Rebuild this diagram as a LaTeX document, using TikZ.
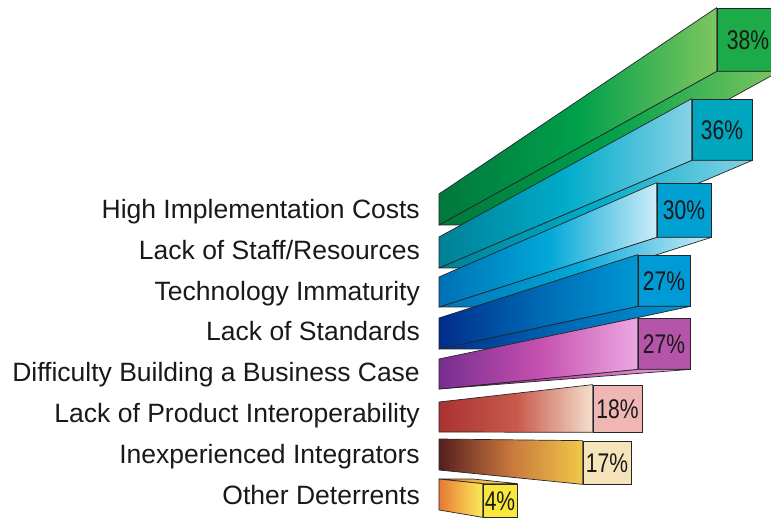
\documentclass[tikz,border=0pt]{standalone}
\usepackage{fontspec}
\setmainfont{Liberation Sans}
\usepackage{graphicx}
\newcommand{\pctText}[1]{\scalebox{0.78}[1]{#1}}
% bar colours: l = left end, m = middle, r = right end, s = end square
\definecolor{gOneL}{RGB}{0,120,60}\definecolor{gOneM}{RGB}{0,160,75}\definecolor{gOneR}{RGB}{125,198,95}\definecolor{gOneS}{RGB}{29,170,72}
\definecolor{gTwoL}{RGB}{0,128,150}\definecolor{gTwoM}{RGB}{0,172,202}\definecolor{gTwoR}{RGB}{135,210,230}\definecolor{gTwoS}{RGB}{0,165,190}
\definecolor{gThrL}{RGB}{0,112,182}\definecolor{gThrM}{RGB}{0,168,215}\definecolor{gThrR}{RGB}{205,236,248}\definecolor{gThrS}{RGB}{0,160,210}
\definecolor{gFouL}{RGB}{0,45,140}\definecolor{gFouM}{RGB}{0,105,180}\definecolor{gFouR}{RGB}{0,152,212}\definecolor{gFouS}{RGB}{0,155,215}
\definecolor{gFivL}{RGB}{120,45,145}\definecolor{gFivM}{RGB}{196,80,175}\definecolor{gFivR}{RGB}{236,168,226}\definecolor{gFivS}{RGB}{180,85,170}
\definecolor{gSixL}{RGB}{170,50,50}\definecolor{gSixM}{RGB}{200,90,75}\definecolor{gSixR}{RGB}{245,222,205}\definecolor{gSixS}{RGB}{240,182,180}
\definecolor{gSevL}{RGB}{85,30,30}\definecolor{gSevM}{RGB}{200,120,60}\definecolor{gSevR}{RGB}{240,200,72}\definecolor{gSevS}{RGB}{245,228,185}
\definecolor{gEigL}{RGB}{230,120,50}\definecolor{gEigM}{RGB}{242,180,70}\definecolor{gEigR}{RGB}{250,235,90}\definecolor{gEigS}{RGB}{250,230,60}
\begin{document}
\begin{tikzpicture}[x=1pt,y=-1pt]
%styles
\tikzstyle{labelText}=[anchor=east, inner sep=0pt, text=black!90, text height=19pt, text depth=0pt, font=\fontsize{26.5}{28}\selectfont]
\tikzstyle{endFace}=[rectangle, draw=black!85, line width=0.7pt, inner sep=0pt, text=black!90, text height=19.4pt, text depth=0pt, font=\fontsize{27}{29}\selectfont]
\tikzstyle{face}=[draw=black!85, line width=0.7pt, line join=round]
%frame
\path[use as bounding box, clip] (0,0) rectangle (771,518);
%left ends of the bars
\coordinate (t1) at (439,194); \coordinate (b1) at (439,225); \coordinate (c1) at (501,225);
\coordinate (t2) at (439,237); \coordinate (b2) at (439,268); \coordinate (c2) at (499,268);
\coordinate (t3) at (439,277); \coordinate (b3) at (439,307); \coordinate (c3) at (493,307);
\coordinate (t4) at (439,318); \coordinate (b4) at (439,349); \coordinate (c4) at (491,349);
\coordinate (t5) at (439,359); \coordinate (b5) at (439,389);
\coordinate (t6) at (439,402); \coordinate (b6) at (439,432);
\coordinate (t7) at (439,439); \coordinate (b7) at (439,470);
\coordinate (t8) at (439,479); \coordinate (b8) at (439,510); \coordinate (c8) at (473,479);

%bar 1
\node[endFace, fill=gOneS, minimum width=62pt, minimum height=63pt] (e1) at (748,39.5) {\pctText{38\%}};
\draw[face, left color=gOneL, right color=gOneR, middle color=gOneM] (b1) -- (e1.south west) -- (e1.south east) -- (c1) -- cycle;
\draw[face, left color=gOneL, right color=gOneR, middle color=gOneM] (t1) -- (e1.north west) -- (e1.south west) -- (b1) -- cycle;
%bar 2
\node[endFace, fill=gTwoS, minimum width=60pt, minimum height=61pt] (e2) at (722,129.5) {\pctText{36\%}};
\draw[face, left color=gTwoL, right color=gTwoR, middle color=gTwoM] (b2) -- (e2.south west) -- (e2.south east) -- (c2) -- cycle;
\draw[face, left color=gTwoL, right color=gTwoR, middle color=gTwoM] (t2) -- (e2.north west) -- (e2.south west) -- (b2) -- cycle;
%bar 3
\node[endFace, fill=gThrS, minimum width=54pt, minimum height=54pt] (e3) at (684,210) {\pctText{30\%}};
\draw[face, left color=gThrL, right color=gThrR, middle color=gThrM] (b3) -- (e3.south west) -- (e3.south east) -- (c3) -- cycle;
\draw[face, left color=gThrL, right color=gThrR, middle color=gThrM] (t3) -- (e3.north west) -- (e3.south west) -- (b3) -- cycle;
%bar 4
\node[endFace, fill=gFouS, minimum width=52pt, minimum height=51pt] (e4) at (664,280.5) {\pctText{27\%}};
\draw[face, left color=gFouL, right color=gFouR, middle color=gFouM] (b4) -- (e4.south west) -- (e4.south east) -- (c4) -- cycle;
\draw[face, left color=gFouL, right color=gFouR, middle color=gFouM] (t4) -- (e4.north west) -- (e4.south west) -- (b4) -- cycle;
%bar 5
\node[endFace, fill=gFivS, minimum width=52pt, minimum height=51pt] (e5) at (664,343.5) {\pctText{27\%}};
\draw[face, left color=gFivL, right color=gFivR, middle color=gFivM] (b5) -- (e5.south west) -- (e5.south east) -- cycle;
\draw[face, left color=gFivL, right color=gFivR, middle color=gFivM] (t5) -- (e5.north west) -- (e5.south west) -- (b5) -- cycle;
%bar 6
\node[endFace, fill=gSixS, minimum width=49pt, minimum height=47pt] (e6) at (617.5,408.5) {\pctText{18\%}};
\draw[face, left color=gSixL, right color=gSixR, middle color=gSixM] (t6) -- (e6.north west) -- (e6.south west) -- (b6) -- cycle;
%bar 7
\node[endFace, fill=gSevS, minimum width=48pt, minimum height=43pt] (e7) at (607,462.5) {\pctText{17\%}};
\draw[face, left color=gSevL, right color=gSevR, middle color=gSevM] (t7) -- (e7.north west) -- (e7.south west) -- (b7) -- cycle;
%bar 8
\node[endFace, fill=gEigS, minimum width=34pt, minimum height=33pt] (e8) at (500,500.5) {\pctText{4\%}};
\draw[face, left color=gEigL, right color=gEigR, middle color=gEigM] (t8) -- (e8.north west) -- (e8.north east) -- (c8) -- cycle;
\draw[face, left color=gEigL, right color=gEigR, middle color=gEigM] (t8) -- (e8.north west) -- (e8.south west) -- (b8) -- cycle;

%text
\node[labelText] (lab1) at (420,209) {High Implementation Costs};
\node[labelText] (lab2) at (420,249.8) {Lack of Staff/Resources};
\node[labelText] (lab3) at (420,290.6) {Technology Immaturity};
\node[labelText] (lab4) at (420,331.4) {Lack of Standards};
\node[labelText] (lab5) at (420,372.2) {Difficulty Building a Business Case};
\node[labelText] (lab6) at (420,413) {Lack of Product Interoperability};
\node[labelText] (lab7) at (420,453.8) {Inexperienced Integrators};
\node[labelText] (lab8) at (420,494.6) {Other Deterrents};
\end{tikzpicture}
\end{document}
